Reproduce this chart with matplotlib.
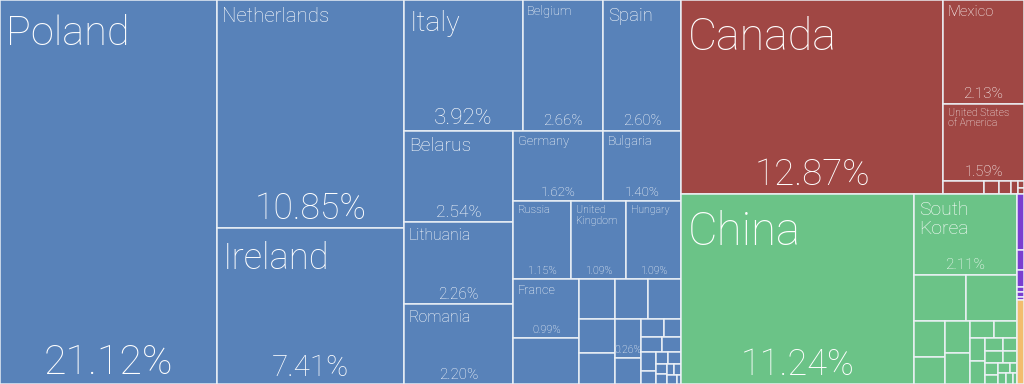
import matplotlib
matplotlib.use("Agg")
import matplotlib.pyplot as plt
from matplotlib.patches import Rectangle
import math

# ---------------- data (share of total, %) ----------------
europe_names = ["Poland", "Netherlands", "Ireland", "Italy", "Belgium", "Spain",
                "Belarus", "Lithuania", "Romania", "Germany", "Bulgaria", "Russia",
                "United\nKingdom", "Hungary", "France"] + [None] * 6 + [""] + [None] * 15
europe_values = [21.12, 10.85, 7.41, 3.92, 2.66, 2.60, 2.54, 2.26, 2.20, 1.62, 1.40,
                 1.15, 1.09, 1.09, 0.99, 0.78, 0.36, 0.33, 0.33, 0.31, 0.28, 0.26,
                 0.17, 0.11, 0.08, 0.08, 0.07, 0.07, 0.05, 0.04, 0.04, 0.03, 0.03,
                 0.02, 0.02, 0.02, 0.01]

americas_names = ["Canada", "Mexico", "United States\nof America"] + [None] * 6
americas_values = [12.87, 2.13, 1.59, 0.13, 0.045, 0.04, 0.02, 0.01, 0.01]

asia_names = ["China", "South\nKorea"] + [None] * 21
asia_values = [11.24, 2.11, 0.62, 0.60, 0.28, 0.21, 0.20, 0.20, 0.10, 0.095, 0.09,
               0.09, 0.06, 0.05, 0.05, 0.04, 0.04, 0.03, 0.03, 0.02, 0.02, 0.02, 0.01]

africa_names = [None] * 6
africa_values = [0.10, 0.036, 0.03, 0.01, 0.008, 0.006]

oceania_names = [None]
oceania_values = [0.15]

groups = ["Europe", "Americas", "Asia", "Africa", "Oceania"]
group_names = [europe_names, americas_names, asia_names, africa_names, oceania_names]
group_values = [europe_values, americas_values, asia_values, africa_values, oceania_values]

# ---------------- style ----------------
group_colors = {"Europe": "#5882b9", "Americas": "#a04744", "Asia": "#6bc387",
                "Africa": "#7a3fd0", "Oceania": "#f3bd6e"}
FONT = ["Roboto", "Open Sans", "DejaVu Sans"]
WEIGHT = "light"
W, H, DPI = 1024, 384, 100


def squarify(values, x0, y0, x1, y1):
    """Squarified treemap (ratio 1), in the given order."""
    n = len(values)
    rects = [None] * n
    value = float(sum(values))
    i0 = 0
    while i0 < n:
        dx, dy = x1 - x0, y1 - y0
        i1 = i0
        s = values[i1]
        i1 += 1
        mn = mx = s
        alpha = max(dy / dx, dx / dy) / value
        beta = s * s * alpha
        best = max(mx / beta, beta / mn)
        while i1 < n:
            v = values[i1]
            s2 = s + v
            mn2, mx2 = min(mn, v), max(mx, v)
            beta = s2 * s2 * alpha
            r = max(mx2 / beta, beta / mn2)
            if r > best:
                break
            s, mn, mx, best = s2, mn2, mx2, r
            i1 += 1
        last = i1 >= n
        if dx < dy:
            yb = y1 if last else y0 + dy * s / value
            xx = x0
            for k in range(i0, i1):
                w = dx * values[k] / s
                rects[k] = (xx, y0, xx + w, yb)
                xx += w
            y0 = yb
        else:
            xb = x1 if last else x0 + dx * s / value
            yy = y0
            for k in range(i0, i1):
                h = dy * values[k] / s
                rects[k] = (x0, yy, xb, yy + h)
                yy += h
            x0 = xb
        value -= s
        i0 = i1
    return rects


fig = plt.figure(figsize=(W / DPI, H / DPI), dpi=DPI)
ax = fig.add_axes([0, 0, 1, 1])
ax.set_xlim(0, W)
ax.set_ylim(H, 0)
ax.axis("off")
renderer = fig.canvas.get_renderer()
PX2PT = 72.0 / DPI


def text_ratio(s):
    """width and height (px) per px of font size"""
    t = ax.text(0, 0, s, fontsize=100 * PX2PT, family=FONT, fontweight=WEIGHT,
                linespacing=1.1)
    bb = t.get_window_extent(renderer)
    t.remove()
    return bb.width / 100.0, bb.height / 100.0


totals = [sum(v) for v in group_values]
group_rects = squarify(totals, 0, 0, W, H)

for g, names, vals, grect in zip(groups, group_names, group_values, group_rects):
    color = group_colors[g]
    rects = squarify(vals, *grect)
    for name, v, (x0, y0, x1, y1) in zip(names, vals, rects):
        w, h = x1 - x0, y1 - y0
        ax.add_patch(Rectangle((x0, y0), w, h, facecolor=color,
                               edgecolor=(0.93, 0.95, 0.97, 0.95), linewidth=1.1))
        if name is None:
            continue
        side = min(w, h)
        if name:
            rw, rh = text_ratio(name)
            fs = min(0.57 * w / rw, 0.24 * side, 0.5 * h / rh)
            fs = max(fs, min(10.5, 0.9 * w / rw))
            ax.text(x0 + 4 + 0.05 * fs, y0 + 0.36 * fs, name, fontsize=fs * PX2PT,
                    family=FONT, fontweight=WEIGHT, color="white", va="top",
                    ha="left", linespacing=1.1)
        pct = f"{v:.2f}%"
        rw, _ = text_ratio(pct)
        pfs = min(0.62 * w / rw, 0.19 * side)
        pfs = max(pfs, min(10.5, 0.4 * h))
        ax.text((x0 + x1) / 2, y1 - (3 + 0.16 * pfs), pct, fontsize=pfs * PX2PT,
                family=FONT, fontweight=WEIGHT, color="white", va="baseline",
                ha="center")

fig.savefig("out.png", dpi=DPI)
